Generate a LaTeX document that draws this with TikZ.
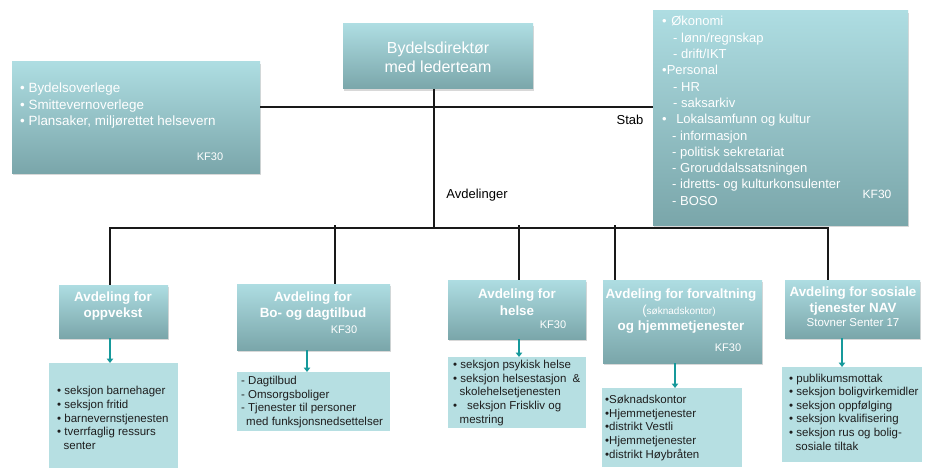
\documentclass[tikz,border=0pt]{standalone}
\usepackage{fontspec}
\setmainfont{Liberation Sans}
\usetikzlibrary{arrows.meta,shadows,calc}
\definecolor{hdrtop}{HTML}{AEDDE2}
\definecolor{hdrbot}{HTML}{7AA6AA}
\definecolor{subfill}{HTML}{B6DFE2}
\definecolor{tealarr}{HTML}{16999B}
\definecolor{subtext}{HTML}{1E1E1E}
\newcommand\myfs[2]{\fontsize{#1}{#2}\selectfont}
\begin{document}
\begin{tikzpicture}[x=1pt,y=-1pt,
  box/.style={anchor=north west, inner sep=0pt, outer sep=0pt, top color=hdrtop, bottom color=hdrbot,
    drop shadow={shadow xshift=0.8pt, shadow yshift=-2pt, opacity=0.3}},
  subbox/.style={anchor=north west, inner sep=0pt, outer sep=0pt, fill=subfill},
  conn/.style={line width=1.9pt, black!90},
  tarr/.style={line width=1.8pt, tealarr, -{Triangle[length=4.5pt,width=6.5pt]}},
  hdrtext/.style={text=white, font=\myfs{13.4}{16.5}\bfseries, align=center, inner sep=0pt},
  toptext/.style={text=white, font=\myfs{16}{19}, align=center, inner sep=0pt},
  listtext/.style={text=white, font=\myfs{13}{16.3}, align=left, inner sep=0pt, anchor=west},
  kf/.style={text=white, font=\myfs{11}{13}, inner sep=0pt},
  subtxt/.style={text=subtext, font=\myfs{11.5}{13.6}, align=left, inner sep=0pt, anchor=west},
  plain/.style={text=black, font=\myfs{13}{15}, inner sep=0pt}
]
\useasboundingbox (0,0) rectangle (925,468);
\fill[white] (0,0) rectangle (925,468);

% top level boxes
\node[box, minimum width=190pt, minimum height=65pt] (top) at (343,24) {};
\node[toptext] (toptxt) at (438,57) {Bydelsdirektør\\med lederteam};

\node[box, minimum width=248pt, minimum height=111pt] (left) at (12,62) {};
\node[listtext, font=\myfs{13.4}{16.5}] (lefttxt) at (20,106) {• Bydelsoverlege\\• Smittevernoverlege\\• Plansaker, miljørettet helsevern};
\node[kf] (leftkf) at (210,157) {KF30};

\node[box, minimum width=255pt, minimum height=214pt] (right) at (653,11) {};
\node[listtext] (righttxt) at (662,111) {•\hspace{4.5pt}Økonomi\\
\hspace{11pt}- lønn/regnskap\\
\hspace{11pt}- drift/IKT\\
•Personal\\
\hspace{11pt}- HR\\
\hspace{11pt}- saksarkiv\\
•\hspace{9.5pt}Lokalsamfunn og kultur\\
\hspace{10pt}- informasjon\\
\hspace{10pt}- politisk sekretariat\\
\hspace{10pt}- Groruddalssatsningen\\
\hspace{10pt}- idretts- og kulturkonsulenter\\
\hspace{10pt}- BOSO};
\node[kf, font=\myfs{12}{13}] (rightkf) at (877,194) {KF30};

\node[plain] (stab) at (630,120) {Stab};
\node[plain] (avd) at (477,195) {Avdelinger};

% department headers
\node[box, minimum width=109pt, minimum height=53pt] (h1) at (59,285) {};
\node[hdrtext] (h1t) at (113,306) {Avdeling for\\oppvekst};

\node[box, minimum width=153pt, minimum height=66pt] (h2) at (237,284) {};
\node[hdrtext] (h2t) at (313,306) {Avdeling for\\Bo- og dagtilbud};
\node[kf] (h2kf) at (344,330) {KF30};

\node[box, minimum width=138pt, minimum height=59pt] (h3) at (448,280) {};
\node[hdrtext] (h3t) at (517,302) {Avdeling for\\helse};
\node[kf] (h3kf) at (553,325) {KF30};

\node[box, minimum width=159pt, minimum height=83pt] (h4) at (603,280) {};
\node[hdrtext] (h4a) at (681,295) {Avdeling for forvaltning};
\node[hdrtext, font=\myfs{10}{12}] (h4b) at (679,311) {{\myfs{13}{13}(}søknadskontor)};
\node[hdrtext] (h4c) at (681,327) {og hjemmetjenester};
\node[kf] (h4kf) at (728,348) {KF30};

\node[box, minimum width=135pt, minimum height=58pt] (h5) at (785,280) {};
\node[hdrtext] (h5t) at (853,301) {Avdeling for sosiale\\tjenester NAV};
\node[kf, font=\myfs{11.5}{13}] (h5kf) at (853,323) {Stovner Senter 17};

% sub boxes
\node[subbox, minimum width=129pt, minimum height=105pt] (s1) at (49,363) {};
\node[subtxt] (s1t) at (57,418) {• seksjon barnehager\\• seksjon fritid\\• barnevernstjenesten\\• tverrfaglig ressurs\\\hspace{6.5pt}senter};

\node[subbox, minimum width=153pt, minimum height=59pt] (s2) at (237,372) {};
\node[subtxt] (s2t) at (241,402) {- Dagtilbud\\- Omsorgsboliger\\- Tjenester til personer\\\hspace{5pt}med funksjonsnedsettelser};

\node[subbox, minimum width=138pt, minimum height=71pt] (s3) at (448,357) {};
\node[subtxt] (s3t) at (453,393) {• seksjon psykisk helse\\• seksjon helsestasjon\hspace{3pt} \&\\\hspace{6.5pt}skolehelsetjenesten\\•\hspace{10pt}seksjon Friskliv og\\\hspace{6.5pt}mestring};

\node[subbox, minimum width=140pt, minimum height=79pt] (s4) at (602,388) {};
\node[subtxt] (s4t) at (605,428) {•Søknadskontor\\•Hjemmetjenester\\•distrikt Vestli\\•Hjemmetjenester\\•distrikt Høybråten};

\node[subbox, minimum width=140pt, minimum height=95pt] (s5) at (782,367) {};
\node[subtxt] (s5t) at (789,412) {• publikumsmottak\\• seksjon boligvirkemidler\\• seksjon oppfølging\\• seksjon kvalifisering\\• seksjon rus og bolig-\\\hspace{6.5pt}sosiale tiltak};

% connectors
\coordinate (b0) at (434,228);
\coordinate (bL) at (110,228);
\coordinate (bR) at (828,228);
\coordinate (d2) at (335,225);
\coordinate (d3) at (519,225);
\coordinate (d4) at (615,225);
\coordinate (sy) at (0,107);
\draw[conn] (top.south -| b0) -- (b0);
\draw[conn] (left.east |- sy) -- (right.west |- sy);
\draw[conn] ([xshift=-0.95pt]bL) -- ([xshift=0.95pt]bR);
\draw[conn] (bL) -- (h1.north -| bL);
\draw[conn] (d2) -- (h2.north -| d2);
\draw[conn] (d3) -- (h3.north -| d3);
\draw[conn] (d4) -- (h4.north -| d4);
\draw[conn] (bR) -- (h5.north -| bR);

% teal arrows
\coordinate (a1) at (110,0);
\coordinate (a2) at (307,0);
\coordinate (a3) at (519,0);
\coordinate (a4) at (675,0);
\coordinate (a5) at (842,0);
\draw[tarr] (h1.south -| a1) -- (s1.north -| a1);
\draw[tarr] (h2.south -| a2) -- (s2.north -| a2);
\draw[tarr] (h3.south -| a3) -- (s3.north -| a3);
\draw[tarr] (h4.south -| a4) -- (s4.north -| a4);
\draw[tarr] (h5.south -| a5) -- (s5.north -| a5);
\end{tikzpicture}
\end{document}
